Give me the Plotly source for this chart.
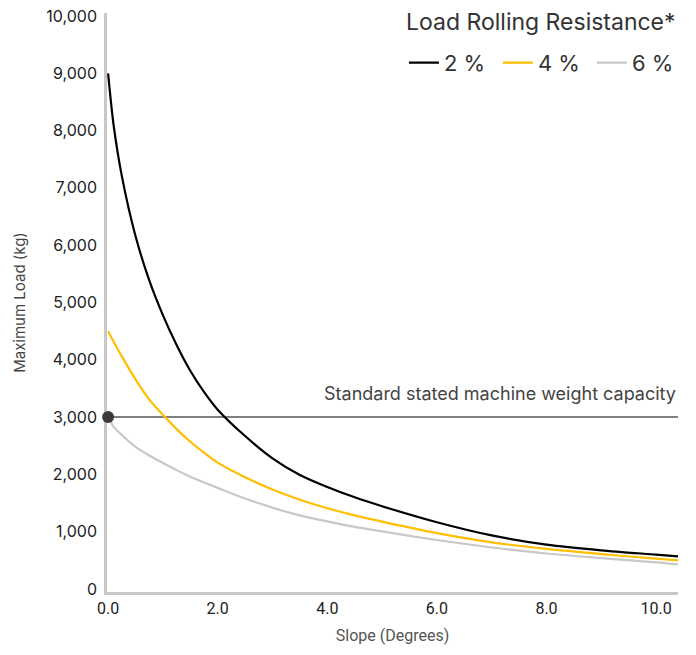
import plotly.graph_objects as go

# Slope in degrees
slope = [0, 0.1, 0.25, 0.5, 0.75, 1.0, 1.25, 1.5, 1.75, 2.0, 2.5, 3.0, 3.5, 4.0, 4.5, 5.0, 6.0, 7.0, 8.0, 9.0, 10.0, 10.4]

load_2pct = [9000, 8100, 7210, 6160, 5390, 4780, 4260, 3810, 3440, 3130, 2670, 2280, 1990, 1780, 1600, 1445, 1165, 935, 775, 675, 600, 569]
load_4pct = [4500, 4320, 4060, 3660, 3310, 3040, 2790, 2570, 2380, 2205, 1950, 1737, 1558, 1410, 1285, 1175, 975, 815, 700, 610, 530, 499]
load_6pct = [3000, 2830, 2690, 2480, 2330, 2200, 2075, 1960, 1860, 1765, 1578, 1420, 1284, 1180, 1085, 1005, 855, 725, 620, 540, 465, 429]

series_names = ["2 %", "4 %", "6 %"]
series_colors = ["#000000", "#FFBE00", "#C8C8C8"]
legend_title = "Load Rolling Resistance*"

capacity = 3000
capacity_x = [0, 10.4]
capacity_label = "Standard stated machine weight capacity"

y_ticks = list(range(0, 10001, 1000))
x_ticks = [0, 2, 4, 6, 8, 10]

FONT = "Inter"

fig = go.Figure()

# capacity line
fig.add_trace(go.Scatter(x=capacity_x, y=[capacity, capacity], mode="lines",
                         line=dict(color="#555555", width=1.5), showlegend=False,
                         hoverinfo="skip"))

for name, ys, col in zip(series_names, [load_2pct, load_4pct, load_6pct], series_colors):
    fig.add_trace(go.Scatter(x=slope, y=ys, mode="lines", name=name,
                             line=dict(color=col, width=2.2, shape="spline", smoothing=0.8)))

# dot at capacity on y axis
fig.add_trace(go.Scatter(x=[capacity_x[0]], y=[capacity], mode="markers",
                         marker=dict(color="#3A3A3A", size=12), showlegend=False,
                         cliponaxis=False, hoverinfo="skip"))

fig.add_annotation(x=capacity_x[1], y=capacity, xref="x", yref="y",
                   text=capacity_label, showarrow=False, xanchor="right", yanchor="bottom",
                   yshift=11, font=dict(family=FONT, size=18, color="#444444"))

fig.add_annotation(x=1, y=0.9845, xref="paper", yref="paper", text=legend_title,
                   showarrow=False, xanchor="right", yanchor="middle",
                   font=dict(family=FONT, size=23, color="#333333"))

fig.update_layout(
    width=696, height=655,
    margin=dict(l=107, r=18, t=13, b=63, autoexpand=False),
    plot_bgcolor="white", paper_bgcolor="white",
    font=dict(family=FONT, size=16, color="#222222"),
    legend=dict(
        orientation="h", x=0.52, xanchor="left", y=0.914, yanchor="middle",
        font=dict(family=FONT, size=22, color="#333333"),
        itemwidth=30, entrywidth=49, bgcolor="rgba(0,0,0,0)",
    ),
)

fig.update_xaxes(range=[-0.02, 10.4], tickvals=x_ticks, tickformat=".1f",
                 showgrid=False, zeroline=False, showline=True, linecolor="#C8C8C8",
                 linewidth=2.5, ticks="", layer="below traces", automargin=False,
                 tickfont=dict(family="Roboto", size=16, color="#222222"),
                 title=dict(text="Slope (Degrees)", font=dict(family="Roboto", size=16, color="#555555"),
                            standoff=13))
fig.update_yaxes(range=[-52, 10052], tickvals=y_ticks, tickformat=",",
                 showgrid=False, zeroline=False, showline=True, linecolor="#C8C8C8",
                 linewidth=2.5, ticks="", layer="below traces", ticklabelstandoff=4,
                 ticklabeloverflow="allow", automargin=False,
                 tickfont=dict(family=FONT, size=16, color="#222222"),
                 title=dict(text="Maximum Load (kg)", font=dict(family=FONT, size=15, color="#444444"),
                            standoff=18))

fig.write_html("out.html", config={"displayModeBar": False},
               post_script="document.body.style.margin='0';")
